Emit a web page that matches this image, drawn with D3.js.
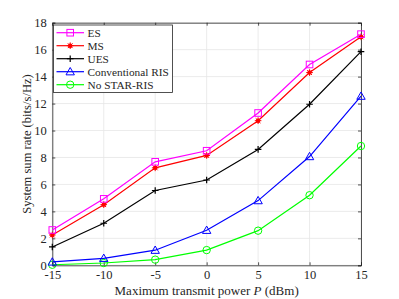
<!DOCTYPE html>
<html><head><meta charset="utf-8">
<script src="https://cdn.jsdelivr.net/npm/d3@7"></script>
<style>body{margin:0;background:#fff}svg{display:block}text{font-family:"Liberation Serif","Times New Roman",serif;fill:#262626}</style>
</head><body><svg id="c" width="399" height="299"></svg>
<script>
const xValues = [-15, -10, -5, 0, 5, 10, 15];
const xTicks = [-15, -10, -5, 0, 5, 10, 15];
const yTicks = [0, 2, 4, 6, 8, 10, 12, 14, 16, 18];
const seriesNames = ["ES", "MS", "UES", "Conventional RIS", "No STAR-RIS"];
const esValues = [2.62, 4.93, 7.68, 8.5, 11.3, 14.9, 17.15];
const msValues = [2.25, 4.5, 7.23, 8.15, 10.73, 14.3, 16.95];
const uesValues = [1.36, 3.12, 5.55, 6.33, 8.6, 11.95, 15.85];
const convValues = [0.25, 0.52, 1.12, 2.6, 4.8, 8.07, 12.55];
const noStarValues = [0.04, 0.17, 0.42, 1.13, 2.57, 5.2, 8.85];
const colors = ["#ff00ff", "#ff0000", "#000000", "#0000ff", "#00ff00"];
const markers = ["square", "star", "plus", "triangle", "circle"];
const allValues = [esValues, msValues, uesValues, convValues, noStarValues];

const svg = d3.select("#c");
const L = 52.3, R = 361, T = 22.7, B = 265.3;
const x = d3.scaleLinear().domain([-15, 15]).range([L, R]);
const y = d3.scaleLinear().domain([0, 18]).range([B, T]);
const serif = '"Liberation Serif","Times New Roman",serif';

// grid
const g = svg.append("g");
g.selectAll(".gx").data(xTicks).enter().append("line")
  .attr("x1", d => x(d)).attr("x2", d => x(d)).attr("y1", T).attr("y2", B)
  .attr("stroke", "#e6e6e6").attr("stroke-width", 0.8);
g.selectAll(".gy").data(yTicks).enter().append("line")
  .attr("y1", d => y(d)).attr("y2", d => y(d)).attr("x1", L).attr("x2", R)
  .attr("stroke", "#e6e6e6").attr("stroke-width", 0.8);

// axes
const axCol = "#262626";
const xAxis = d3.axisBottom(x).tickValues(xTicks).tickSize(-3).tickPadding(5).tickFormat(d3.format("d"));
const yAxis = d3.axisLeft(y).tickValues(yTicks).tickSize(-3).tickPadding(5.5).tickFormat(d3.format("d"));
const gx = svg.append("g").attr("transform", `translate(0,${B})`).call(xAxis);
const gy = svg.append("g").attr("transform", `translate(${L},0)`).call(yAxis);
const gxt = svg.append("g").attr("transform", `translate(0,${T})`).call(d3.axisTop(x).tickValues(xTicks).tickSize(-3).tickFormat(""));
const gyr = svg.append("g").attr("transform", `translate(${R},0)`).call(d3.axisRight(y).tickValues(yTicks).tickSize(-3).tickFormat(""));
[gx, gy, gxt, gyr].forEach(a => {
  a.selectAll("path.domain").attr("stroke", axCol).attr("stroke-width", 0.8);
  a.selectAll(".tick line").attr("stroke", axCol).attr("stroke-width", 0.8);
  a.selectAll("text").attr("font-size", 12.5).attr("fill", axCol).attr("font-family", serif);
});
gx.selectAll("text").text(d => d < 0 ? "-" + Math.abs(d) : d);

// labels
const xl = svg.append("text").attr("x", (L + R) / 2).attr("y", 294.5).attr("text-anchor", "middle")
  .attr("font-size", 13).attr("font-family", serif);
xl.append("tspan").text("Maximum transmit power  ");
xl.append("tspan").attr("font-style", "italic").text("P");
xl.append("tspan").text(" (dBm)");
svg.append("text").attr("transform", `translate(31,${(T + B) / 2}) rotate(-90)`)
  .attr("text-anchor", "middle").attr("font-size", 12.6).attr("font-family", serif).text("System sum rate (bits/s/Hz)");

function drawMarker(sel, type, color, cx, cy) {
  const s = 3.3;
  if (type === "square") {
    sel.append("rect").attr("x", cx - s).attr("y", cy - s).attr("width", 2 * s).attr("height", 2 * s)
      .attr("fill", "none").attr("stroke", color).attr("stroke-width", 1);
  } else if (type === "circle") {
    sel.append("circle").attr("cx", cx).attr("cy", cy).attr("r", s + 0.4)
      .attr("fill", "none").attr("stroke", color).attr("stroke-width", 1);
  } else if (type === "triangle") {
    const h = 4.2;
    sel.append("path").attr("d", `M${cx},${cy - h}L${cx + h},${cy + h * 0.75}L${cx - h},${cy + h * 0.75}Z`)
      .attr("fill", "none").attr("stroke", color).attr("stroke-width", 1);
  } else if (type === "plus") {
    sel.append("path").attr("d", `M${cx - s},${cy}H${cx + s}M${cx},${cy - s}V${cy + s}`)
      .attr("stroke", color).attr("stroke-width", 1.2);
  } else if (type === "star") {
    sel.append("circle").attr("cx", cx).attr("cy", cy).attr("r", 2.2).attr("fill", color);
    sel.append("path").attr("d", `M${cx - s},${cy}H${cx + s}M${cx},${cy - s}V${cy + s}M${cx - 2.4},${cy - 2.4}L${cx + 2.4},${cy + 2.4}M${cx - 2.4},${cy + 2.4}L${cx + 2.4},${cy - 2.4}`)
      .attr("stroke", color).attr("stroke-width", 1);
  }
}

const line = d3.line().x((d, i) => x(xValues[i])).y(d => y(d));
const plot = svg.append("g");
allValues.slice().reverse().forEach((vals, ri) => {
  const i = allValues.length - 1 - ri;
  plot.append("path").attr("d", line(vals)).attr("fill", "none").attr("stroke", colors[i]).attr("stroke-width", 1.2);
  vals.forEach((v, j) => drawMarker(plot, markers[i], colors[i], x(xValues[j]), y(v)));
});

// legend
const lg = svg.append("g");
lg.append("rect").attr("x", 53.5).attr("y", 25).attr("width", 119).attr("height", 67.5)
  .attr("fill", "#fff").attr("stroke", axCol).attr("stroke-width", 0.8);
seriesNames.forEach((n, i) => {
  const cy = 32.7 + i * 13;
  lg.append("line").attr("x1", 56.5).attr("x2", 84).attr("y1", cy).attr("y2", cy)
    .attr("stroke", colors[i]).attr("stroke-width", 1.2);
  drawMarker(lg, markers[i], colors[i], 70.2, cy);
  lg.append("text").attr("x", 87.5).attr("y", cy + 4).attr("font-size", 11.3).attr("font-family", serif)
    .attr("fill", "#000").text(n);
});
</script></body></html>
